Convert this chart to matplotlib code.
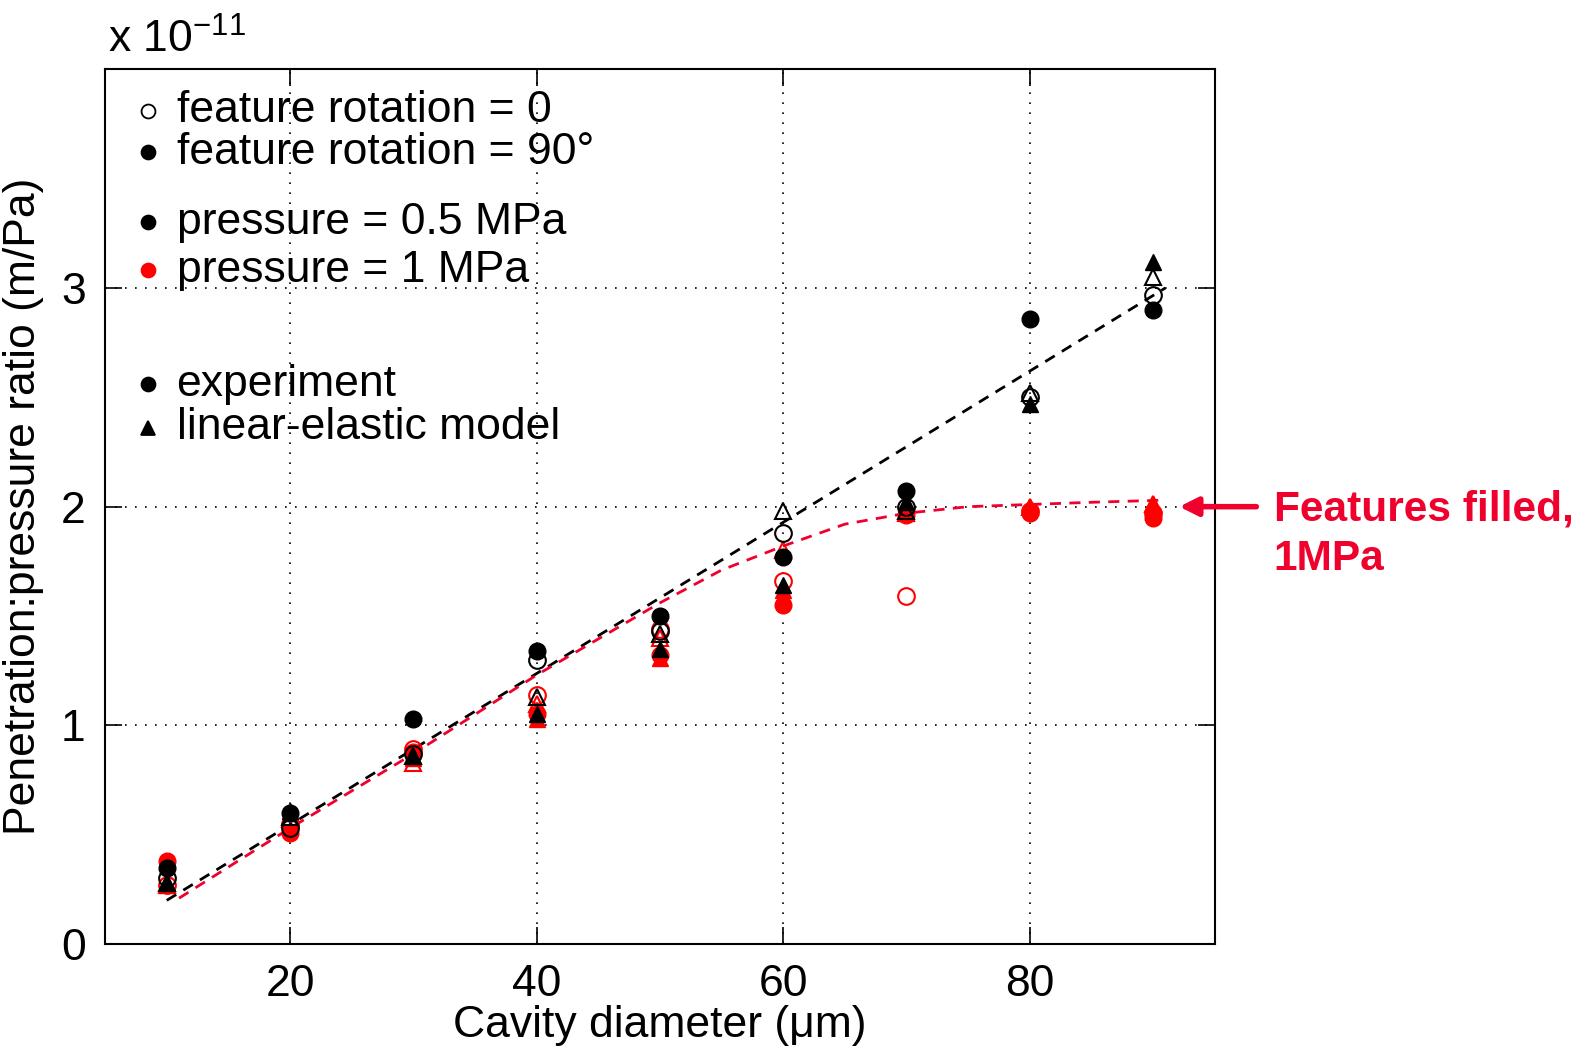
import numpy as np
import matplotlib.pyplot as plt

plt.rcParams['font.family'] = ['Liberation Sans', 'DejaVu Sans']

diam = [10, 20, 30, 40, 50, 60, 70, 80, 90]

# experiment, 0.5 MPa
exp_05_rot0 = [0.30, 0.53, 0.87, 1.30, 1.43, 1.88, 2.00, 2.50, 2.97]
exp_05_rot90 = [0.35, 0.60, 1.03, 1.34, 1.50, 1.77, 2.07, 2.86, 2.90]
# experiment, 1 MPa
exp_1_rot0 = [0.27, 0.55, 0.89, 1.14, 1.44, 1.66, 1.59, 1.98, 1.97]
exp_1_rot90 = [0.38, 0.51, 0.88, 1.05, 1.32, 1.55, 1.96, 1.97, 1.95]
# linear-elastic model, 0.5 MPa
mod_05_rot0 = [0.28, 0.58, 0.86, 1.13, 1.42, 1.98, 1.98, 2.52, 3.05]
mod_05_rot90 = [0.28, 0.61, 0.86, 1.05, 1.35, 1.64, 2.02, 2.47, 3.12]
# linear-elastic model, 1 MPa
mod_1_rot0 = [0.27, 0.57, 0.83, 1.10, 1.40, 1.80, 1.97, 2.00, 2.01]
mod_1_rot90 = [0.27, 0.60, 0.85, 1.03, 1.31, 1.62, 1.97, 2.00, 2.01]

# fitted trend lines
fit_05_x = [10, 91]
fit_05_y = [0.20, 3.00]
fit_1_x = [11, 20, 30, 40, 50, 55, 60, 65, 70, 75, 80, 85, 91]
fit_1_y = [0.21, 0.53, 0.87, 1.23, 1.56, 1.71, 1.82, 1.92, 1.97, 2.00, 2.01, 2.02, 2.03]

RED = '#ff0000'
LRED = '#f0002d'

fig = plt.figure(figsize=(15.92, 10.49), dpi=100)
ax = fig.add_axes([0.066, 0.100, 0.697, 0.834])

ax.plot(fit_05_x, fit_05_y, '--', color='black', lw=2, dashes=(4, 3))
ax.plot(fit_1_x, fit_1_y, '--', color=LRED, lw=2, dashes=(4, 3))

ms = 12
ax.plot(diam, mod_1_rot0, '^', ms=ms, mfc='none', mec=RED, mew=1.5, ls='none')
ax.plot(diam, mod_1_rot90, '^', ms=ms, mfc=RED, mec=RED, ls='none')
ax.plot(diam, exp_1_rot0, 'o', ms=ms, mfc='none', mec=RED, mew=1.5, ls='none')
ax.plot(diam, exp_1_rot90, 'o', ms=ms, mfc=RED, mec=RED, ls='none')
ax.plot(diam, mod_05_rot90, '^', ms=ms, mfc='black', mec='black', ls='none')
ax.plot(diam, mod_05_rot0, '^', ms=ms, mfc='none', mec='black', mew=1.5, ls='none')
ax.plot(diam, exp_05_rot90, 'o', ms=ms, mfc='black', mec='black', ls='none')
ax.plot(diam, exp_05_rot0, 'o', ms=ms, mfc='none', mec='black', mew=1.5, ls='none')

ax.set_xlim(5, 95)
ax.set_ylim(0, 4)
ax.set_xticks([20, 40, 60, 80])
ax.set_yticks([0, 1, 2, 3])
ax.grid(True, color='black', ls=(0, (1, 5)), lw=1.2)
ax.tick_params(direction='in', top=True, right=True, length=12, width=1.2,
               labelsize=32, pad=14)
for s in ax.spines.values():
    s.set_linewidth(1.5)

ax.set_xlabel('Cavity diameter (\u03bcm)', fontsize=32, labelpad=0)
ax.set_ylabel('Penetration:pressure ratio (m/Pa)', fontsize=32, labelpad=12)
fig.text(0.068, 0.950, r'x 10$^{\mathregular{-11}}$', fontsize=32)

# hand-made legend
leg = [
    (3.81, 'o', 'none', 'black', 'feature rotation = 0'),
    (3.62, 'o', 'black', 'black', 'feature rotation = 90\u00b0'),
    (3.30, 'o', 'black', 'black', 'pressure = 0.5 MPa'),
    (3.08, 'o', RED, RED, 'pressure = 1 MPa'),
    (2.56, 'o', 'black', 'black', 'experiment'),
    (2.36, '^', 'black', 'black', 'linear-elastic model'),
]
for yy, mk, fc, ec, lab in leg:
    ax.plot([8.5], [yy], mk, ms=10, mfc=fc, mec=ec, mew=1.3, clip_on=False)
    ax.text(10.8, yy, lab, fontsize=32, va='center', ha='left')

ax.annotate('', xy=(91.9, 2.0), xytext=(98.6, 2.0),
            xycoords='data', textcoords='data', annotation_clip=False,
            arrowprops=dict(arrowstyle='-|>,head_length=1.1,head_width=0.55',
                            color=LRED, lw=4))
fig.text(0.800, 0.491, 'Features filled,\n1MPa', color=LRED, fontsize=30.5,
         fontweight='bold', va='center', ha='left', linespacing=1.3)

fig.savefig('out.png', dpi=100)
